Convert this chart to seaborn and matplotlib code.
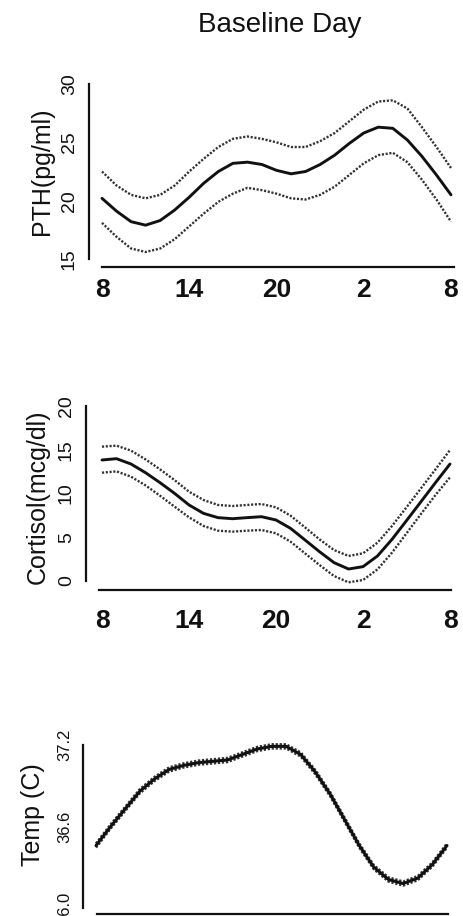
import numpy as np
import pandas as pd
import matplotlib
matplotlib.use("Agg")
import matplotlib.pyplot as plt
import seaborn as sns

# ---------------- data ----------------
hours = list(range(8, 33))  # clock time 8 .. 8 next day (as 8..32)
x_tick_pos = [8, 14, 20, 26, 32]
x_tick_labels = ["8", "14", "20", "2", "8"]

pth_mean = [20.2, 19.1, 18.2, 17.9, 18.3, 19.2, 20.3, 21.5, 22.5, 23.2, 23.3, 23.1,
            22.6, 22.3, 22.5, 23.1, 23.9, 24.9, 25.8, 26.3, 26.2, 25.2, 23.8, 22.2, 20.5]
pth_upper = [22.5, 21.3, 20.5, 20.2, 20.5, 21.3, 22.5, 23.6, 24.6, 25.3, 25.5, 25.3,
             25.0, 24.6, 24.6, 25.1, 25.8, 26.8, 27.8, 28.5, 28.6, 27.9, 26.3, 24.6, 22.8]
pth_lower = [18.1, 16.9, 15.9, 15.6, 15.9, 16.7, 17.8, 18.9, 19.9, 20.6, 21.1, 20.9,
             20.6, 20.2, 20.1, 20.5, 21.2, 22.2, 23.2, 23.9, 24.1, 23.3, 21.8, 20.1, 18.2]
pth_ticks = [15, 20, 25, 30]

cort_mean = [13.83, 13.98, 13.37, 12.38, 11.24, 10.02, 8.69, 7.73, 7.24, 7.12, 7.24, 7.35,
             6.97, 6.02, 4.69, 3.35, 2.10, 1.37, 1.64, 2.86, 4.76, 6.90, 9.07, 11.24, 13.37]
cort_upper = [15.35, 15.47, 14.90, 13.90, 12.76, 11.54, 10.21, 9.26, 8.69, 8.57, 8.69, 8.80,
              8.42, 7.47, 6.13, 4.76, 3.54, 2.86, 3.16, 4.38, 6.29, 8.42, 10.59, 12.76, 14.97]
cort_lower = [12.38, 12.53, 11.92, 10.93, 9.75, 8.50, 7.28, 6.29, 5.75, 5.64, 5.75, 5.83,
              5.45, 4.50, 3.16, 1.83, 0.57, -0.15, 0.11, 1.33, 3.24, 5.45, 7.66, 9.83, 11.85]
cort_ticks = [0, 5, 10, 15, 20]

temp_mean = [36.46, 36.60, 36.73, 36.86, 36.95, 37.02, 37.05, 37.07, 37.08, 37.09, 37.13, 37.17,
             37.19, 37.19, 37.13, 37.00, 36.84, 36.65, 36.46, 36.30, 36.21, 36.18, 36.22, 36.32, 36.46]
temp_upper = [36.475, 36.615, 36.745, 36.875, 36.965, 37.035, 37.065, 37.085, 37.095, 37.105, 37.145, 37.185,
              37.205, 37.205, 37.145, 37.015, 36.855, 36.665, 36.475, 36.315, 36.225, 36.195, 36.235, 36.335, 36.475]
temp_lower = [36.445, 36.585, 36.715, 36.845, 36.935, 37.005, 37.035, 37.055, 37.065, 37.075, 37.115, 37.155,
              37.175, 37.175, 37.115, 36.985, 36.825, 36.635, 36.445, 36.285, 36.195, 36.165, 36.205, 36.305, 36.445]
temp_ticks = [36.0, 36.6, 37.2]
temp_tick_labels = ["36.0", "36.6", "37.2"]

title = "Baseline Day"
ylabels = ["PTH(pg/ml)", "Cortisol(mcg/dl)", "Temp (C)"]

# ---------------- style ----------------
sns.set_style("white")
plt.rcParams["font.family"] = ["Liberation Sans", "DejaVu Sans"]
for key in ("text.color", "axes.labelcolor", "xtick.color", "ytick.color"):
    plt.rcParams[key] = "#111111"
plt.rcParams["lines.solid_joinstyle"] = "round"
plt.rcParams["lines.solid_capstyle"] = "round"

W, H, DPI = 463, 916, 100
fig = plt.figure(figsize=(W / DPI, H / DPI), dpi=DPI)
PT = 72.0 / DPI  # pixels -> points


def make_axes(x8, x32, v0, p0, v1, p1, ylim, spine_x, spine_y):
    """Place an axes so that data value v0 sits at pixel row p0, v1 at p1."""
    k = (p0 - p1) / (v1 - v0)  # pixels per unit
    bot_px = p0 + (v0 - ylim[0]) * k
    top_px = p0 - (ylim[1] - v0) * k
    ax = fig.add_axes([x8 / W, 1 - bot_px / H, (x32 - x8) / W, (bot_px - top_px) / H])
    ax.set_xlim(8, 32)
    ax.set_ylim(*ylim)
    ax.spines["left"].set_position(("outward", (x8 - spine_x) * PT))
    ax.spines["bottom"].set_position(("outward", (spine_y - bot_px) * PT))
    for s in ("top", "right"):
        ax.spines[s].set_visible(False)
    for s in ("left", "bottom"):
        ax.spines[s].set_linewidth(1.6)
        ax.spines[s].set_color("#111111")
    ax.set_facecolor("none")
    ax.tick_params(length=0)
    return ax


def draw(ax, mean, upper, lower, solid_lw=2.1, dot_lw=1.7):
    df = pd.DataFrame({"hour": hours, "mean": mean, "upper": upper, "lower": lower})
    for col in ("upper", "lower"):
        sns.lineplot(data=df, x="hour", y=col, ax=ax, color="#333333",
                     linewidth=dot_lw, linestyle=(0, (0.9, 0.7)), clip_on=False)
    sns.lineplot(data=df, x="hour", y="mean", ax=ax, color="#111111",
                 linewidth=solid_lw, clip_on=False)
    ax.set_xlabel("")
    ax.set_ylabel("")


xfont = dict(family=["Liberation Sans Narrow", "Liberation Sans"], weight="bold", size=19)

# Panel 1: PTH
ax1 = make_axes(102, 451, 15, 259, 30, 84, (15, 30), 89, 267)
draw(ax1, pth_mean, pth_upper, pth_lower)
ax1.spines["bottom"].set_bounds(8, 32.2)
ax1.set_yticks(pth_ticks)
ax1.set_yticklabels([str(t) for t in pth_ticks], rotation=90, fontsize=14, va="center")
ax1.set_xticks(x_tick_pos)
ax1.set_xticklabels(x_tick_labels, **xfont)
ax1.tick_params(axis="y", pad=8)
ax1.tick_params(axis="x", pad=8)

# Panel 2: Cortisol
ax2 = make_axes(102, 450, 0, 581, 20, 406, (-1, 21), 86, 590)
draw(ax2, cort_mean, cort_upper, cort_lower)
ax2.spines["left"].set_bounds(0, 20)
ax2.spines["bottom"].set_bounds(7.8, 32.1)
ax2.set_yticks(cort_ticks)
ax2.set_yticklabels([str(t) for t in cort_ticks], rotation=90, fontsize=14, va="center")
ax2.set_xticks(x_tick_pos)
ax2.set_xticklabels(x_tick_labels, **xfont)
ax2.tick_params(axis="y", pad=8)
ax2.tick_params(axis="x", pad=14)

# Panel 3: Temperature
ax3 = make_axes(96, 447, 36.0, 908, 37.2, 745, (35.95, 37.25), 83, 914)
draw(ax3, temp_mean, temp_upper, temp_lower, solid_lw=2.2, dot_lw=1.8)
ax3.spines["left"].set_bounds(36.0, 37.2)
ax3.spines["bottom"].set_bounds(8.1, 32.1)
ax3.set_yticks(temp_ticks)
ax3.set_yticklabels(temp_tick_labels, rotation=90, fontsize=12, va="center")
ax3.set_xticks([])
ax3.tick_params(axis="y", pad=8)

# Titles and axis labels
fig.text(280 / W, 1 - 25 / H, title, ha="center", va="center", fontsize=20)
for txt, (cx, cy) in zip(ylabels, [(42, 171), (38, 497), (33, 815)]):
    fig.text(cx / W, 1 - cy / H, txt, rotation=90, ha="center", va="center", fontsize=18)

fig.savefig("out.png", dpi=DPI, facecolor="white")
